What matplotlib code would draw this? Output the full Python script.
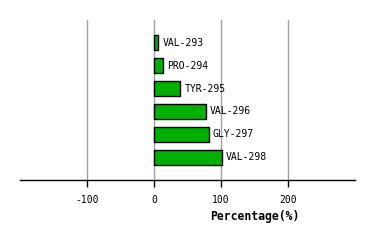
import matplotlib
matplotlib.use("Agg")
import matplotlib.pyplot as plt

# residues and their percentage values
residues = ["VAL-293", "PRO-294", "TYR-295", "VAL-296", "GLY-297", "VAL-298"]
percent = [6.5, 14, 39.5, 77, 81.5, 101.5]
xticks = [-100, 0, 100, 200]

plt.rcParams["font.family"] = ["DejaVu Sans Mono"]

fig = plt.figure(figsize=(3.74, 2.40), dpi=100)
fig.set_facecolor("white")
ax = fig.add_axes([20 / 374, 60 / 240, 335 / 374, 160 / 240])

ax.set_xlim(-200, 300)
ax.set_ylim(6, -1)

for x in xticks:
    ax.axvline(x, color="#a0a0a0", linewidth=1, zorder=0)

ypos = list(range(len(residues)))
ax.barh(ypos, percent, height=0.66, color="#00b000",
        edgecolor="black", linewidth=1, zorder=2)

for y, v, name in zip(ypos, percent, residues):
    ax.annotate(name, xy=(v, y), xytext=(3, 0), textcoords="offset points",
                ha="left", va="center", fontsize=7, color="black")

for side in ["left", "right", "top"]:
    ax.spines[side].set_visible(False)
ax.spines["bottom"].set_linewidth(1)

ax.set_yticks([])
ax.set_xticks(xticks)
ax.set_xticklabels([str(t) for t in xticks], fontsize=7)
ax.tick_params(axis="x", direction="out", length=5, width=1, pad=6)

ax.set_xlabel("Percentage(%)", fontsize=8.3, fontweight="bold")
ax.xaxis.set_label_coords(0.70, -0.19)

fig.savefig("out.png", dpi=100)
